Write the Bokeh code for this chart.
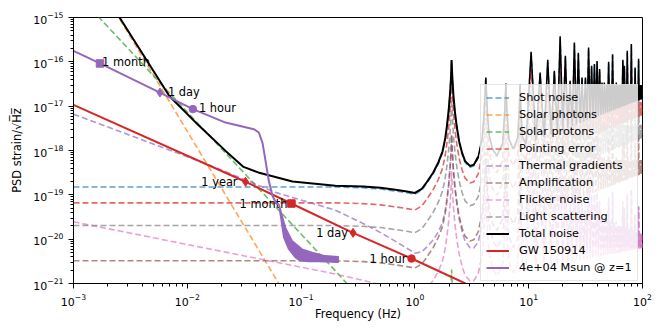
import numpy as np
from bokeh.plotting import figure
from bokeh.models import Range1d, Legend, LegendItem
from bokeh.core.properties import value
from bokeh.embed import file_html
from bokeh.resources import INLINE

FONT = "DejaVu Sans"

# ---------------- values ----------------
# response common to every noise term (1 at low frequency)
resp_f = [0.2, 0.35, 0.5, 0.7, 0.85, 1.0, 1.15, 1.27, 1.45, 1.61, 1.75, 1.85, 1.91, 1.98,
          2.04, 2.08, 2.10, 2.13, 2.18, 2.25, 2.33, 2.45, 2.6, 2.76, 3.05, 3.3]
resp = [1.0, 0.96, 0.9, 0.8, 0.74, 0.69, 0.85, 1.2, 2.0, 3.4, 6.0, 12, 22, 50,
        130, 300, 690, 300, 110, 45, 22, 10, 5.5, 3.6, 2.8, 3.0]

# total noise below 0.2 Hz
total_low_f = [2.2e-3, 2.54e-3, 6.95e-3, 0.0127, 0.0217, 0.0312, 0.042, 0.084]
total_low_h = [1.8e-15, 1.0e-15, 1.7e-17, 3.6e-18, 9.8e-19, 4.27e-19, 3.2e-19, 2.0e-19]
TOTAL_FLOOR = 1.6e-19  # total noise where the response is 1

# total noise above 3.5 Hz: resonance peaks and troughs
hf_f = [3.6, 3.9, 4.05, 4.2, 4.35, 4.5, 4.8, 5.25,
        5.9, 6.15, 6.3, 6.45, 6.7, 7.35,
        8.0, 8.25, 8.4, 8.55, 8.8, 9.45,
        10.5, 11.55, 12.6, 13.65, 14.7, 15.75, 16.8, 17.85, 18.9, 19.95,
        21.0, 22.05, 23.1, 24.15, 25.2, 26.25, 27.3, 28.35, 29.4, 30.45,
        31.5, 32.55, 33.6, 34.65, 35.7, 36.75, 37.8, 38.85, 39.9, 40.95,
        42.0, 43.05, 44.1, 45.15, 46.2, 47.25, 48.3, 49.35, 50.4, 51.45,
        52.5, 53.55, 54.6, 55.65, 56.7, 57.75, 58.8, 59.85, 60.9, 61.95,
        63.0, 64.05, 65.1, 66.15, 67.2, 68.25, 69.3, 70.35, 71.4, 72.45,
        73.5, 74.55, 75.6, 76.65, 77.7, 78.75, 79.8, 80.85, 81.9, 82.95,
        84.0, 85.05, 86.1, 87.15, 88.2, 89.25, 90.3, 91.35, 92.4, 93.45,
        94.5, 95.55, 96.6, 97.65, 98.7, 99.75, 100.0]
hf_total = [7.2e-19, 1.9e-18, 6.4e-18, 4.43e-17, 6.4e-18, 2.2e-18, 1.1e-18, 7.7e-19,
            1.45e-18, 7.2e-18, 3.25e-17, 7.2e-18, 1.8e-18, 1.08e-18,
            1.9e-18, 8.0e-18, 3.15e-17, 8.0e-18, 2.1e-18, 1.39e-18,
            1.68e-16, 1.70e-18, 5.74e-17, 2.01e-18, 1.11e-16, 2.32e-18, 6.28e-17, 2.63e-18, 3.77e-16, 2.94e-18,
            1.37e-16, 3.25e-18, 3.73e-17, 3.56e-18, 2.73e-16, 3.87e-18, 1.60e-16, 4.18e-18, 4.43e-17, 4.49e-18,
            4.43e-17, 4.80e-18, 2.10e-16, 5.11e-18, 8.13e-17, 5.42e-18, 8.89e-17, 5.73e-18, 1.05e-16, 6.04e-18,
            6.86e-17, 6.35e-18, 3.42e-17, 6.66e-18, 3.42e-17, 6.97e-18, 3.0e-17, 7.28e-18, 1.0e-16, 7.59e-18,
            3.0e-17, 7.90e-18, 1.49e-16, 8.21e-18, 3.0e-17, 8.52e-18, 3.42e-17, 8.83e-18, 3.0e-17, 9.14e-18,
            3.0e-17, 9.45e-18, 3.0e-17, 9.76e-18, 1.11e-16, 1.01e-17, 8.13e-17, 1.04e-17, 3.0e-17, 1.07e-17,
            1.77e-16, 1.10e-17, 3.0e-17, 1.13e-17, 3.0e-17, 1.16e-17, 2.51e-16, 1.19e-17, 3.0e-17, 1.22e-17,
            3.0e-17, 1.25e-17, 7.45e-17, 1.29e-17, 3.0e-17, 1.32e-17, 3.0e-17, 1.35e-17, 1.17e-16, 1.38e-17,
            3.0e-17, 1.41e-17, 3.0e-17, 1.44e-17, 3.0e-17, 1.47e-17, 1.6e-17]

# base spectra of the noise terms (anchor points, before the response)
shot_f, shot_h = [1e-3, 100.0], [1.5e-19, 1.5e-19]
photon_f, photon_h = [2.5e-3, 0.0637], [1e-15, 1e-21]
proton_f, proton_h = [1.68e-3, 0.254], [1e-15, 1e-21]
pointing_f, pointing_h = [1e-3, 100.0], [6.6e-20, 6.6e-20]
thermal_f = [1e-3, 0.015, 0.06, 0.2, 1.0, 100.0]
thermal_h = [6.6e-18, 4.9e-19, 1.13e-19, 4.5e-20, 7e-21, 7e-23]
amp_f, amp_h = [1e-3, 100.0], [3.25e-21, 3.25e-21]
flicker_f, flicker_h = [1e-3, 0.19], [2.46e-20, 1.68e-21]
scatter_f, scatter_h = [1e-3, 100.0], [2.03e-20, 2.03e-20]

# GW 150914 track and its time-to-merger markers
gw_f = [1e-3, 0.0325, 0.0822, 0.286, 0.934, 2.78, 3.2]
gw_h = [1.07e-17, 1.97e-19, 6.37e-20, 1.39e-20, 3.66e-21, 1e-21, 8.5e-22]
gw_mark_f = [0.0325, 0.0822, 0.286, 0.934]
gw_mark_h = [1.97e-19, 6.37e-20, 1.39e-20, 3.66e-21]
gw_mark_lbl = ["1 year", "1 month", "1 day", "1 hour"]
gw_mark_sym = ["diamond", "square", "diamond", "circle"]

# 4e+04 Msun @ z=1 track
bh_f = [1e-3, 1.71e-3, 5.75e-3, 0.0112, 0.0217, 0.0384, 0.0425, 0.0458, 0.0487, 0.052, 0.056, 0.0607, 0.0637]
bh_h = [1.77e-16, 9.2e-17, 2.03e-17, 8.6e-18, 4.27e-18, 3.03e-18, 2.55e-18, 1.49e-18, 5.85e-19, 2.07e-19, 9.5e-20, 6.3e-20, 6.2e-20]
bh_up_f = [0.0637, 0.0728, 0.0834, 0.102, 0.125, 0.163, 0.212]
bh_up_h = [6.2e-20, 1.83e-20, 9.2e-21, 5.97e-21, 5.0e-21, 4.2e-21, 4.0e-21]
bh_lo_f = [0.0637, 0.0704, 0.0778, 0.0891, 0.0986, 0.1167, 0.1427, 0.212]
bh_lo_h = [6.2e-20, 1.09e-20, 5.97e-21, 3.85e-21, 3.25e-21, 3.13e-21, 3.13e-21, 3.0e-21]
bh_mark_f = [1.71e-3, 5.75e-3, 0.0112]
bh_mark_h = [9.2e-17, 2.03e-17, 8.6e-18]
bh_mark_lbl = ["1 month", "1 day", "1 hour"]
bh_mark_sym = ["square", "diamond", "circle"]

# label offsets in screen pixels (style, not data)
gw_lbl_dx = [-8, -4, -5, -5]
bh_lbl_dx = [2, 8, 6]

# ---------------- assembling ----------------
def loglin(f, af, ah):
    lf = np.log10(np.asarray(f, float))
    la, lh = np.log10(af), np.log10(ah)
    out = np.interp(lf, la, lh)
    s0 = (lh[1] - lh[0]) / (la[1] - la[0])
    s1 = (lh[-1] - lh[-2]) / (la[-1] - la[-2])
    lo, hi = lf < la[0], lf > la[-1]
    out[lo] = lh[0] + s0 * (lf[lo] - la[0])
    out[hi] = lh[-1] + s1 * (lf[hi] - la[-1])
    return 10 ** out

low_grid = sorted(set([1e-3] + [v for a in (shot_f, photon_f, proton_f, thermal_f, flicker_f, total_low_f) for v in a if v < 0.2]))
grid = np.array(low_grid + resp_f + hf_f)
R = np.array([1.0] * len(low_grid) + resp + [h / TOTAL_FLOOR for h in hf_total])

total_f = total_low_f + resp_f + hf_f[:1]
total_h = total_low_h + [TOTAL_FLOOR * r for r in resp] + hf_total[:1]
total_hf_f = resp_f[-1:] + hf_f
total_hf_h = [TOTAL_FLOOR * resp[-1]] + hf_total

p = figure(width=664, height=332, x_axis_type="log", y_axis_type="log",
           x_range=Range1d(1e-3, 1e2), y_range=Range1d(1e-21, 1e-15),
           output_backend="svg", toolbar_location=None,
           min_border_left=73, min_border_right=22, min_border_top=17, min_border_bottom=49)
p.grid.visible = False
p.outline_line_color = "black"
p.outline_line_width = 1
p.background_fill_color = "white"

for ax in (p.xaxis, p.yaxis):
    ax.axis_line_color = "black"
    ax.major_tick_line_color = "black"
    ax.minor_tick_line_color = "black"
    ax.major_tick_out = 5
    ax.major_tick_in = 0
    ax.minor_tick_out = 3
    ax.minor_tick_in = 0
    ax.major_label_text_font = FONT
    ax.major_label_text_font_size = "11px"
    ax.major_label_text_color = "black"
    ax.axis_label_text_font = FONT
    ax.axis_label_text_font_size = "11.4px"
    ax.axis_label_text_font_style = "normal"
    ax.axis_label_text_color = "black"
p.xaxis.axis_label = "Frequency (Hz)"
p.yaxis.axis_label = "PSD strain/\u221aH\u0305z\u0305"
p.xaxis.axis_label_standoff = -2
p.yaxis.axis_label_standoff = 6

DASH = "6 3"
noise = [("Shot noise", "#1f77b4", shot_f, shot_h),
         ("Solar photons", "#ff7f0e", photon_f, photon_h),
         ("Solar protons", "#2ca02c", proton_f, proton_h),
         ("Pointing error", "#d62728", pointing_f, pointing_h),
         ("Thermal gradients", "#9467bd", thermal_f, thermal_h),
         ("Amplification", "#8c564b", amp_f, amp_h),
         ("Flicker noise", "#e377c2", flicker_f, flicker_h),
         ("Light scattering", "#7f7f7f", scatter_f, scatter_h)]
items = []
for name, col, af, ah in noise:
    y = loglin(grid, af, ah) * R
    r = p.line(grid, y, line_color=col, line_width=1.6, line_dash=DASH, line_alpha=0.7)
    items.append(LegendItem(label=name, renderers=[r]))

rt = p.line(total_f, total_h, line_color="black", line_width=2)
p.line(total_hf_f, total_hf_h, line_color="black", line_width=1.5)
items.append(LegendItem(label="Total noise", renderers=[rt]))

rg = p.line(gw_f, gw_h, line_color="#d62728", line_width=2)
for sym in set(gw_mark_sym):
    xs = [f for f, s in zip(gw_mark_f, gw_mark_sym) if s == sym]
    ys = [h for h, s in zip(gw_mark_h, gw_mark_sym) if s == sym]
    p.scatter(xs, ys, marker=sym, size=9 if sym == "diamond" else 7.5, color="#d62728")
for f, h, t, dx in zip(gw_mark_f, gw_mark_h, gw_mark_lbl, gw_lbl_dx):
    p.text([f], [h], text=[t], text_align="right", text_baseline="middle", x_offset=dx,
           text_font=value(FONT), text_font_size="11.4px", text_color="black")
items.append(LegendItem(label="GW 150914", renderers=[rg]))

rb = p.line(bh_f, bh_h, line_color="#9467bd", line_width=2)
p.patch(bh_up_f + bh_lo_f[::-1], bh_up_h + bh_lo_h[::-1], fill_color="#9467bd", line_color="#9467bd", line_width=1.5)
for sym in set(bh_mark_sym):
    xs = [f for f, s in zip(bh_mark_f, bh_mark_sym) if s == sym]
    ys = [h for h, s in zip(bh_mark_h, bh_mark_sym) if s == sym]
    p.scatter(xs, ys, marker=sym, size=9 if sym == "diamond" else 7.5, color="#9467bd")
for f, h, t, dx in zip(bh_mark_f, bh_mark_h, bh_mark_lbl, bh_lbl_dx):
    p.text([f], [h], text=[t], text_align="left", text_baseline="middle", x_offset=dx, y_offset=-1,
           text_font=value(FONT), text_font_size="11.4px", text_color="black")
items.append(LegendItem(label="4e+04 Msun @ z=1", renderers=[rb]))

legend = Legend(items=items, location=(407, 2), orientation="vertical")
legend.label_text_font = FONT
legend.label_text_font_size = "11.3px"
legend.label_text_color = "black"
legend.label_height = 15
legend.glyph_height = 15
legend.glyph_width = 23
legend.spacing = 2
legend.padding = 5
legend.margin = 0
legend.label_standoff = 10
legend.background_fill_color = "white"
legend.background_fill_alpha = 0.8
legend.border_line_color = "#cccccc"
legend.border_line_width = 1
p.add_layout(legend)

open("out.html", "w").write(file_html(p, INLINE))
